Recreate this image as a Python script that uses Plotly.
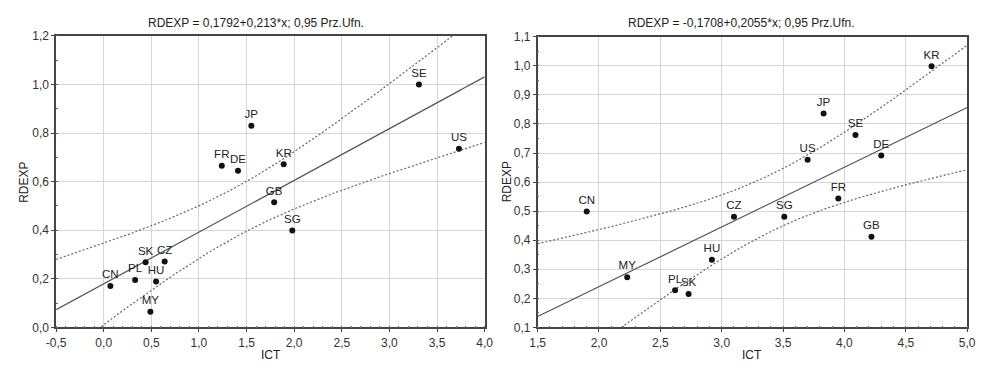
import numpy as np
import plotly.graph_objects as go

# ---------------- data ----------------
left_countries = ["SE", "JP", "US", "FR", "DE", "KR", "GB", "SG", "SK", "CZ", "CN", "PL", "HU", "MY"]
left_ict = [3.31, 1.55, 3.73, 1.24, 1.41, 1.89, 1.79, 1.98, 0.44, 0.64, 0.07, 0.33, 0.55, 0.49]
left_rdexp = [1.00, 0.83, 0.735, 0.665, 0.645, 0.672, 0.515, 0.399, 0.268, 0.271, 0.170, 0.195, 0.189, 0.064]
left_intercept = 0.1792
left_slope = 0.213
left_title = "RDEXP = 0,1792+0,213*x; 0,95 Prz.Ufn."
left_xticks = [-0.5, 0.0, 0.5, 1.0, 1.5, 2.0, 2.5, 3.0, 3.5, 4.0]
left_xticklabels = ["-0,5", "0,0", "0,5", "1,0", "1,5", "2,0", "2,5", "3,0", "3,5", "4,0"]
left_yticks = [0.0, 0.2, 0.4, 0.6, 0.8, 1.0, 1.2]
left_yticklabels = ["0,0", "0,2", "0,4", "0,6", "0,8", "1,0", "1,2"]

right_countries = ["KR", "JP", "SE", "US", "DE", "FR", "CN", "CZ", "SG", "GB", "HU", "MY", "PL", "SK"]
right_ict = [4.71, 3.83, 4.09, 3.70, 4.30, 3.95, 1.90, 3.10, 3.51, 4.22, 2.92, 2.23, 2.62, 2.73]
right_rdexp = [0.999, 0.836, 0.762, 0.677, 0.692, 0.544, 0.499, 0.481, 0.481, 0.412, 0.333, 0.273, 0.228, 0.215]
right_intercept = -0.1708
right_slope = 0.2055
right_title = "RDEXP = -0,1708+0,2055*x; 0,95 Prz.Ufn."
right_xticks = [1.5, 2.0, 2.5, 3.0, 3.5, 4.0, 4.5, 5.0]
right_xticklabels = ["1,5", "2,0", "2,5", "3,0", "3,5", "4,0", "4,5", "5,0"]
right_yticks = [0.1, 0.2, 0.3, 0.4, 0.5, 0.6, 0.7, 0.8, 0.9, 1.0, 1.1]
right_yticklabels = ["0,1", "0,2", "0,3", "0,4", "0,5", "0,6", "0,7", "0,8", "0,9", "1,0", "1,1"]

T_CRIT = 2.1788  # t(0.975, df=12)

FONT = "Liberation Sans, Arial, sans-serif"


def bands(x, y, a, b, xr):
    x = np.asarray(x, float)
    y = np.asarray(y, float)
    n = len(x)
    resid = y - (a + b * x)
    se = np.sqrt(np.sum(resid ** 2) / (n - 2))
    xbar = x.mean()
    sxx = np.sum((x - xbar) ** 2)
    xs = np.linspace(xr[0], xr[1], 300)
    fit = a + b * xs
    hw = T_CRIT * se * np.sqrt(1.0 / n + (xs - xbar) ** 2 / sxx)
    return xs, fit, fit - hw, fit + hw


fig = go.Figure()

panels = [
    (left_countries, left_ict, left_rdexp, left_intercept, left_slope, (-0.5, 4.0), "x", "y"),
    (right_countries, right_ict, right_rdexp, right_intercept, right_slope, (1.5, 5.0), "x2", "y2"),
]

for cn, xi, yi, a, b, xr, xa, ya in panels:
    xs, fit, lo, hi = bands(xi, yi, a, b, xr)
    fig.add_trace(go.Scatter(x=xs, y=fit, mode="lines", xaxis=xa, yaxis=ya,
                             line=dict(color="#555555", width=1.2), showlegend=False, hoverinfo="skip"))
    for band in (lo, hi):
        fig.add_trace(go.Scatter(x=xs, y=band, mode="lines", xaxis=xa, yaxis=ya,
                                 line=dict(color="#666666", width=1.2, dash="2px,2px"),
                                 showlegend=False, hoverinfo="skip"))
    fig.add_trace(go.Scatter(x=xi, y=yi, mode="markers+text", text=cn, textposition="top center",
                             xaxis=xa, yaxis=ya, cliponaxis=False,
                             marker=dict(color="#111111", size=6),
                             textfont=dict(family=FONT, size=11.5, color="#222222"),
                             showlegend=False))

ax_common = dict(showgrid=True, gridcolor="#d6d6d6", gridwidth=1, zeroline=False,
                 showline=True, linecolor="#444444", linewidth=1.5, mirror=True,
                 ticks="outside", ticklen=3, tickcolor="#444444",
                 tickfont=dict(family=FONT, size=12, color="#333333"),
                 tickmode="array")

fig.update_layout(
    width=985, height=370,
    margin=dict(l=0, r=0, t=0, b=0),
    paper_bgcolor="white", plot_bgcolor="white",
    font=dict(family=FONT, size=11, color="#222222"),
    xaxis=dict(domain=[47 / 985, 484 / 985], range=[-0.5, 4.0], anchor="y",
               tickvals=left_xticks, ticktext=left_xticklabels,
               minor=dict(ticks="inside", ticklen=2, dtick=0.1, tickcolor="#666666", showgrid=False),
               **ax_common),
    yaxis=dict(domain=[1 - 333 / 370, 1 - 30 / 370], range=[0.0, 1.2], anchor="x",
               tickvals=left_yticks, ticktext=left_yticklabels,
               minor=dict(ticks="inside", ticklen=2, dtick=0.1, tickcolor="#666666", showgrid=False),
               **ax_common),
    xaxis2=dict(domain=[538 / 985, 976 / 985], range=[1.5, 5.0], anchor="y2",
                tickvals=right_xticks, ticktext=right_xticklabels,
                minor=dict(ticks="inside", ticklen=2, dtick=0.1, tickcolor="#666666", showgrid=False),
                **ax_common),
    yaxis2=dict(domain=[1 - 333 / 370, 1 - 31 / 370], range=[0.1, 1.1], anchor="x2",
                tickvals=right_yticks, ticktext=right_yticklabels,
                minor=dict(ticks="inside", ticklen=2, dtick=0.05, tickcolor="#666666", showgrid=False),
                **ax_common),
)

ann = [
    dict(text=left_title, x=251 / 985, y=1 - 17 / 370, size=12, angle=0),
    dict(text=right_title, x=746 / 985, y=1 - 17 / 370, size=12, angle=0),
    dict(text="ICT", x=266 / 985, y=1 - 362 / 370, size=12, angle=0),
    dict(text="ICT", x=757 / 985, y=1 - 362 / 370, size=12, angle=0),
    dict(text="RDEXP", x=14 / 985, y=1 - 182 / 370, size=12, angle=-90),
    dict(text="RDEXP", x=507 / 985, y=1 - 182 / 370, size=12, angle=-90),
]
for a in ann:
    fig.add_annotation(text=a["text"], x=a["x"], y=a["y"], xref="paper", yref="paper",
                       showarrow=False, xanchor="center", yanchor="middle", textangle=a["angle"],
                       font=dict(family=FONT, size=a["size"], color="#222222"))

fig.write_html("out.html")
